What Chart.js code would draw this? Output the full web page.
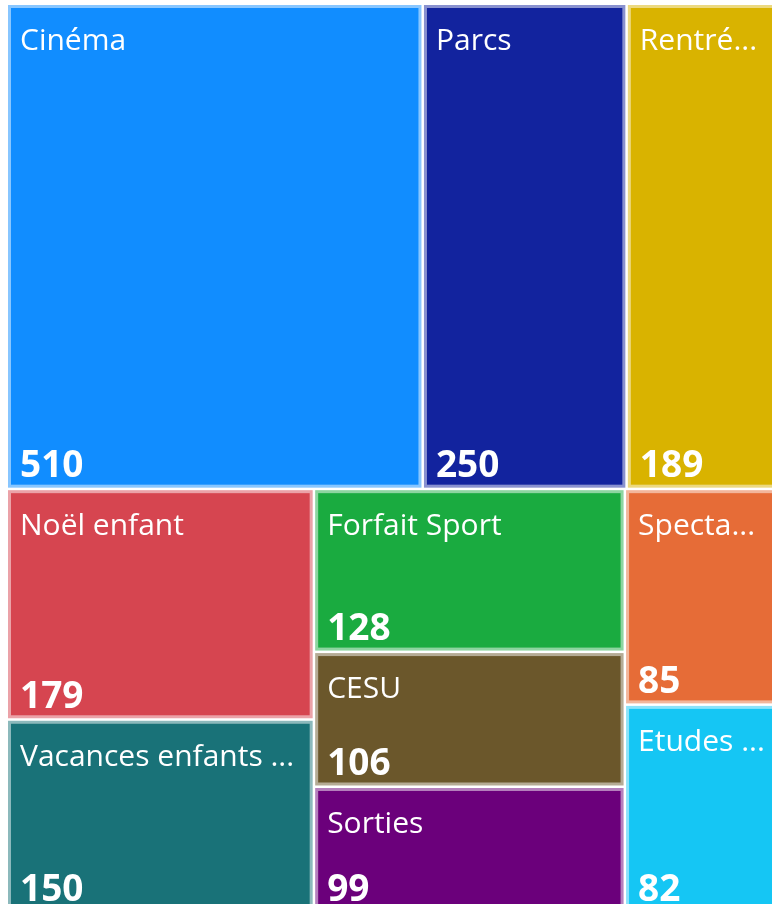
<!DOCTYPE html>
<html>
<head>
<meta charset="utf-8">
<script src="https://cdn.jsdelivr.net/npm/chart.js@4.4.1/dist/chart.umd.min.js"></script>
<style>
    html, body {
        margin: 0;
        padding: 0;
        width: 772px;
        height: 904px;
        overflow: hidden;
        background: #ffffff;
    }
    #treemap {
        position: absolute;
        left: 8px;
        top: 5px;
    }
</style>
</head>
<body>
<canvas id="treemap" width="774" height="909"></canvas>
<script>
// categories, sorted by value as in the report
const categories = [
    "Cinéma",
    "Parcs",
    "Rentrée scolaire",
    "Noël enfant",
    "Vacances enfants été",
    "Forfait Sport",
    "CESU",
    "Sorties",
    "Spectacles",
    "Etudes supérieures",
];
const counts = [510, 250, 189, 179, 150, 128, 106, 99, 85, 82];
const tileColors = [
    "#118DFF", "#12239E", "#D9B300", "#D64550", "#197278",
    "#1AAB40", "#6B572B", "#6B007B", "#E66C37", "#15C6F4",
];
// how many tiles go into each strip of the treemap
const stripSizes = [3, 2, 3, 2];

const GAP = 2.5;
const BORDER = 3;

function lighten(hex, t) {
    const n = parseInt(hex.slice(1), 16);
    const r = (n >> 16) & 255, g = (n >> 8) & 255, b = n & 255;
    const m = (c) => Math.round(c + (255 - c) * t);
    return "rgb(" + m(r) + "," + m(g) + "," + m(b) + ")";
}

// strip layout, returns rects in 0..1 units for both axes
function layoutTiles(values, sizes, W, H) {
    let rect = { x: 0, y: 0, w: W, h: H };
    let start = 0;
    const out = [];
    sizes.forEach((n, s) => {
        const items = values.slice(start, start + n);
        const stripSum = items.reduce((a, b) => a + b, 0);
        const restSum = values.slice(start).reduce((a, b) => a + b, 0);
        const frac = stripSum / restSum;
        const last = s === sizes.length - 1;
        let asRow = rect.h > rect.w;
        if (last) asRow = !asRow;

        if (asRow) {
            const sh = rect.h * frac;
            let cx = rect.x;
            items.forEach((v) => {
                const w = rect.w * v / stripSum;
                out.push({ x0: cx, y0: rect.y, x1: cx + w, y1: rect.y + sh });
                cx += w;
            });
            rect = { x: rect.x, y: rect.y + sh, w: rect.w, h: rect.h - sh };
        } else {
            const sw = rect.w * frac;
            let cy = rect.y;
            items.forEach((v) => {
                const h = rect.h * v / stripSum;
                out.push({ x0: rect.x, y0: cy, x1: rect.x + sw, y1: cy + h });
                cy += h;
            });
            rect = { x: rect.x + sw, y: rect.y, w: rect.w - sw, h: rect.h };
        }
        start += n;
    });
    return out.map((r) => ({ x0: r.x0 / W, y0: r.y0 / H, x1: r.x1 / W, y1: r.y1 / H }));
}

function fitText(ctx, text, maxWidth) {
    if (ctx.measureText(text).width <= maxWidth) return text;
    let s = text;
    while (s.length > 0 && ctx.measureText(s + "...").width > maxWidth) {
        s = s.slice(0, -1);
    }
    return s + "...";
}

const treemapPlugin = {
    id: "treemapTiles",
    afterDatasetsDraw(chart) {
        const ctx = chart.ctx;
        const xs = chart.scales.x;
        const ys = chart.scales.y;
        const area = chart.chartArea;
        const tiles = layoutTiles(counts, stripSizes, area.right - area.left, area.bottom - area.top);

        ctx.save();
        tiles.forEach((t, i) => {
            const left = xs.getPixelForValue(t.x0);
            const right = xs.getPixelForValue(t.x1);
            const top = ys.getPixelForValue(t.y0);
            const bottom = ys.getPixelForValue(t.y1);
            const w = right - left - GAP;
            const h = bottom - top - GAP;

            ctx.fillStyle = lighten(tileColors[i], 0.5);
            ctx.fillRect(left, top, w, h);
            ctx.fillStyle = tileColors[i];
            ctx.fillRect(left + BORDER, top + BORDER, w - 2 * BORDER, h - 2 * BORDER);

            ctx.fillStyle = "#ffffff";
            ctx.textBaseline = "alphabetic";
            ctx.textAlign = "left";
            ctx.font = "30px 'Open Sans'";
            ctx.fillText(fitText(ctx, categories[i], w - 24), left + 12, top + 45);

            ctx.font = "bold 37px 'Open Sans'";
            ctx.fillText(String(counts[i]), left + 12, bottom - 13);
        });
        ctx.restore();
    },
};

const ctx = document.getElementById("treemap").getContext("2d");
window.treemap = new Chart(ctx, {
    type: "scatter",
    data: {
        labels: categories,
        datasets: [{
            label: "Nombre",
            data: [],
        }],
    },
    options: {
        responsive: false,
        animation: false,
        layout: { padding: 0 },
        plugins: {
            legend: { display: false },
            tooltip: { enabled: false },
        },
        scales: {
            x: { type: "linear", min: 0, max: 1, display: false },
            y: { type: "linear", min: 0, max: 1, reverse: true, display: false },
        },
    },
    plugins: [treemapPlugin],
});
</script>
</body>
</html>
